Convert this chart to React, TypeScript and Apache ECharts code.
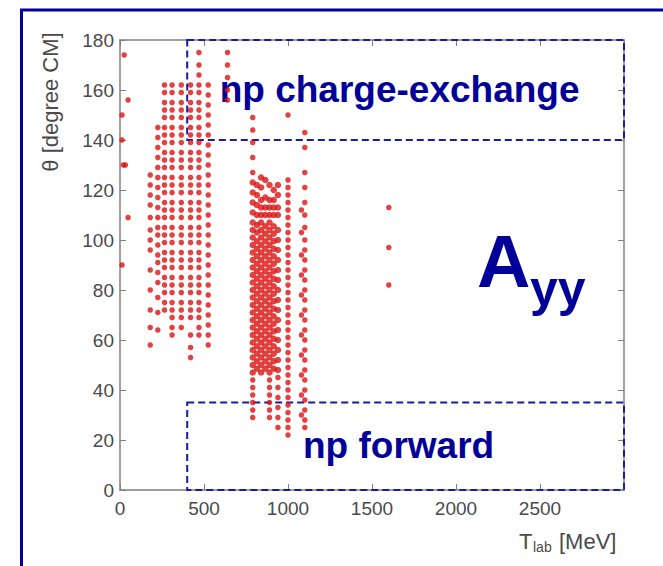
import React, { useEffect, useRef } from "react";
import * as echarts from "echarts";

// ---- data (T_lab in MeV, theta in degrees CM) ----
const lowEnergyPoints: [number, number][] = [
  [25, 174], [48, 156], [12, 150], [12, 140], [20, 130], [32, 130], [48, 109], [12, 90],
];

const col180 = [126, 122, 118, 114, 109, 104, 100, 96, 88, 80, 72, 65, 58];
const col225 = [145, 141, 137, 133, 129, 125, 121, 117, 113, 109, 105, 102, 98, 94, 91, 87, 83, 77, 71, 64];
const col265 = [162, 159, 155, 152, 149, 145, 142, 139, 135, 132, 129, 125, 122, 119, 115, 112, 109, 105, 102, 99, 95, 92, 89, 85, 82, 79, 75, 72];
const col310 = [162, 159, 155, 152, 149, 145, 142, 139, 135, 132, 129, 125, 122, 119, 115, 112, 109, 105, 102, 99, 95, 92, 89, 85, 82, 79, 75, 72, 69, 65, 62];
const col365 = [162, 159, 155, 152, 149, 145, 142, 139, 135, 132, 129, 125, 122, 119, 115, 112, 109, 105, 102, 99, 95, 92, 89, 85, 82, 79, 75, 72, 69, 65];
const col420 = [162, 159, 155, 152, 149, 145, 142, 139, 135, 132, 129, 125, 122, 119, 115, 112, 109, 105, 102, 99, 95, 92, 89, 85, 82, 79, 75, 72, 69, 62, 57, 53];
const col470 = [175, 170, 166, 162, 159, 155, 152, 149, 145, 142, 139, 135, 132, 129, 125, 122, 119, 115, 112, 109, 105, 102, 99, 95, 92, 89, 85, 82, 79, 75, 72, 69, 65, 62];
const col525 = [162, 158, 154, 150, 146, 142, 138, 134, 130, 126, 122, 118, 114, 110, 106, 102, 98, 94, 90, 86, 82, 78, 74, 70, 66, 62, 58];
const col640 = [175, 170, 165, 160, 156];

const col790 = [149, 144, 139, 133, 127, 123, 119, 115, 111, 107, 104, 101, 98, 95, 92, 89, 86, 83, 80, 77, 74, 71, 68, 65, 62, 59, 56, 53, 50, 47, 44, 41, 38, 35, 32, 29];
const col815 = [122, 118, 114, 110, 106, 103, 99.5, 96.5, 93.5, 90.5, 87.5, 84.5, 81.5, 78.5, 75.5, 72.5, 69.5, 66.5, 63.5, 60.5, 57.5, 54.5, 51.5, 48.5];
const col840 = [125, 121, 116, 113, 110, 107, 104, 101, 98, 95, 92, 89, 86, 83, 80, 77, 74, 71, 68, 65, 62, 59, 56, 53, 50, 47];
const col865 = [124, 117, 113, 110, 105.5, 102.5, 99.5, 96.5, 93.5, 90.5, 87.5, 84.5, 81.5, 78.5, 75.5, 72.5, 69.5, 66.5, 63.5, 60.5, 57.5, 54.5, 51.5, 48.5];
const col890 = [122, 116, 113, 110, 107, 104, 101, 98, 95, 92, 89, 86, 83, 80, 77, 74, 71, 68, 65, 62, 59, 56, 53, 50, 47, 44, 41, 38, 35, 32, 29];
const col915 = [120, 116, 113, 110, 105.5, 102.5, 99.5, 96.5, 93.5, 90.5, 87.5, 84.5, 81.5, 78.5, 75.5, 72.5, 69.5, 66.5, 63.5, 60.5, 57.5, 54.5, 51.5, 48.5];
const col940 = [122, 118, 113, 110, 104, 100, 96, 92, 88, 84, 80, 76, 72, 68, 64, 60, 56, 52, 48, 45, 41, 37, 33, 29, 25];
const col1000 = [150, 124, 121, 118, 115, 112, 109, 106, 103, 100, 97, 94, 91, 88, 85, 82, 79, 76, 73, 70, 67, 64, 61, 58, 55, 52, 49, 46, 43, 40, 37, 34, 31, 28, 25, 22];
const col1080 = [112, 103, 94, 86, 78, 70, 62, 54, 46, 38, 30];
const col1100 = [143, 137, 127, 121, 115, 110, 105, 100, 96, 92, 88, 84, 80, 76, 72, 68, 64, 60, 56, 52, 48, 44, 40, 36, 32, 28, 25];
const col1600 = [113, 97, 82];

const columns: [number, number[]][] = [
  [180, col180], [225, col225], [265, col265], [310, col310], [365, col365],
  [420, col420], [470, col470], [525, col525], [640, col640],
  [790, col790], [815, col815], [840, col840], [865, col865], [890, col890],
  [915, col915], [940, col940], [1000, col1000], [1080, col1080], [1100, col1100],
  [1600, col1600],
];

const regions = [
  { name: "np charge-exchange", tFrom: 400, tTo: 3000, thFrom: 140, thTo: 180 },
  { name: "np forward", tFrom: 400, tTo: 3000, thFrom: 0, thTo: 35 },
];

const xMin = 0, xMax = 3000, xStep = 500;
const yMin = 0, yMax = 180, yStep = 20;

const FONT = '"Liberation Sans", Arial, Helvetica, sans-serif';
const BLUE = "#000099";
const AXIS_GRAY = "#808080";
const LABEL_GRAY = "#4a4a4a";

export default function App() {
  const ref = useRef<HTMLDivElement>(null);

  useEffect(() => {
    if (!ref.current) return;
    const chart = echarts.init(ref.current, null, { renderer: "svg" });

    const points: [number, number][] = [];
    columns.forEach(([t, angles]) => angles.forEach((a) => points.push([t, a])));
    lowEnergyPoints.forEach((p) => points.push(p));

    const axisLine = { show: true, onZero: false, lineStyle: { color: AXIS_GRAY, width: 1.5 } };
    const axisTick = { show: true, inside: true, length: 6, lineStyle: { color: AXIS_GRAY, width: 1 } };

    const option: any = {
      animation: false,
      backgroundColor: "#ffffff",
      grid: { left: 120, right: 39, top: 40, bottom: 76, containLabel: false },
      xAxis: [
        {
          type: "value", min: xMin, max: xMax, interval: xStep, position: "bottom",
          axisLine, axisTick, splitLine: { show: false },
          axisLabel: {
            color: LABEL_GRAY, fontSize: 19, fontFamily: FONT, margin: 9,
            formatter: (v: number) => (v === xMax ? "" : String(v)),
          },
        },
        {
          type: "value", min: xMin, max: xMax, interval: xStep, position: "top",
          axisLine, axisTick, splitLine: { show: false }, axisLabel: { show: false },
        },
      ],
      yAxis: [
        {
          type: "value", min: yMin, max: yMax, interval: yStep, position: "left",
          axisLine, axisTick, splitLine: { show: false },
          axisLabel: { color: LABEL_GRAY, fontSize: 19, fontFamily: FONT, margin: 6 },
        },
        {
          type: "value", min: yMin, max: yMax, interval: yStep, position: "right",
          axisLine, axisTick, splitLine: { show: false }, axisLabel: { show: false },
        },
      ],
      series: [
        {
          type: "scatter",
          xAxisIndex: 0,
          yAxisIndex: 0,
          symbol: "circle",
          symbolSize: (v: number[]) => (v[0] >= 780 && v[0] <= 950 && v[1] >= 47 && v[1] <= 126 ? 6.5 : 5.5),
          itemStyle: { color: "#dd1111" },
          data: points,
          markArea: {
            silent: true,
            itemStyle: {
              color: "rgba(0,0,0,0)",
              borderColor: "#1a1aa6",
              borderWidth: 2,
              borderType: [7, 4],
            },
            label: {
              show: true,
              position: "inside",
              color: BLUE,
              fontSize: 37,
              fontWeight: "bold",
              fontFamily: FONT,
            },
            data: regions.map((r, i) => [
              {
                name: r.name,
                coord: [r.tFrom, r.thTo],
                label: { offset: i === 0 ? [-6, -1] : [-7, -1] },
              },
              { coord: [r.tTo, r.thFrom] },
            ]),
          },
        },
      ],
      graphic: [
        {
          type: "rect",
          shape: { x: 21.5, y: 10, width: 720, height: 620 },
          style: { fill: "none", stroke: "#0000a0", lineWidth: 3 },
          silent: true,
        },
        {
          type: "text",
          x: 50,
          y: 102,
          rotation: Math.PI / 2,
          style: {
            text: "θ [degree CM]",
            fontSize: 22,
            fontFamily: FONT,
            fill: LABEL_GRAY,
            align: "center",
            verticalAlign: "middle",
          },
        },
        {
          type: "text", x: 519, y: 541,
          style: { text: "T", fontSize: 22, fontFamily: FONT, fill: LABEL_GRAY, align: "left", verticalAlign: "middle" },
        },
        {
          type: "text", x: 533, y: 547,
          style: { text: "lab", fontSize: 14, fontFamily: FONT, fill: LABEL_GRAY, align: "left", verticalAlign: "middle" },
        },
        {
          type: "text", x: 559, y: 541,
          style: { text: "[MeV]", fontSize: 22, fontFamily: FONT, fill: LABEL_GRAY, align: "left", verticalAlign: "middle" },
        },
        {
          type: "text", x: 477, y: 261,
          style: { text: "A", fontSize: 74, fontWeight: "bold", fontFamily: FONT, fill: BLUE, align: "left", verticalAlign: "middle" },
        },
        {
          type: "text", x: 530, y: 289,
          style: { text: "yy", fontSize: 50, fontWeight: "bold", fontFamily: FONT, fill: BLUE, align: "left", verticalAlign: "middle" },
        },
      ],
    };

    chart.setOption(option);
    return () => chart.dispose();
  }, []);

  return (
    <div
      ref={ref}
      style={{ position: "fixed", left: 0, top: 0, width: 663, height: 566, background: "#fff" }}
    />
  );
}
